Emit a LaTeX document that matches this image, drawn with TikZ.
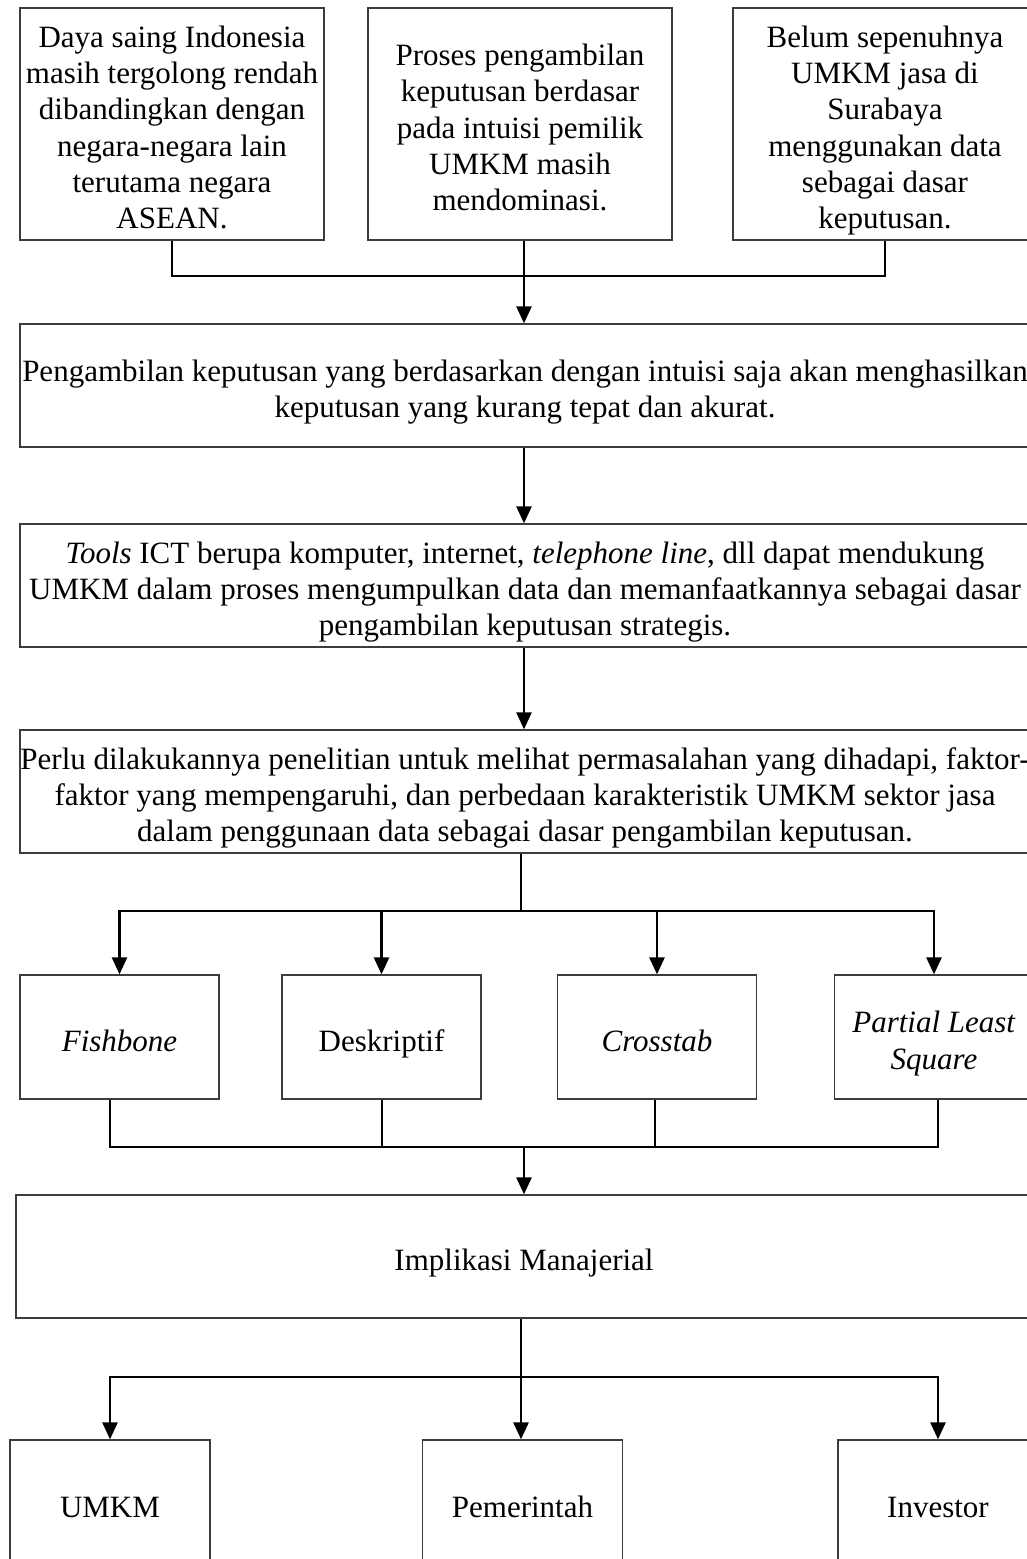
\documentclass[tikz,border=0pt]{standalone}
\usepackage{fontspec}
\setmainfont{Liberation Serif}
\usetikzlibrary{arrows.meta}
\definecolor{boxline}{HTML}{3C3C3C}
% struts that fix the first line's height and the last line's depth
\newcommand\topstrut{\rule{0pt}{36pt}}
\newcommand\botstrut{\rule[-8pt]{0pt}{8pt}}
\begin{document}
\begin{tikzpicture}[x=1pt,y=-1pt,
  box/.style={draw=boxline, line width=1.3pt, fill=white, inner sep=0pt,
    align=center, font=\fontsize{31}{36.3}\selectfont},
  conn/.style={line width=2.6pt, draw=black},
  arr/.style={conn, -{Triangle[length=17pt,width=15pt]}}
]
\useasboundingbox (0,0) rectangle (1027,1559);
\clip (0,0) rectangle (1027,1559);

% top row of problem statements
\node[box, minimum width=304pt, minimum height=232pt] (b1) at (172,124)
  {\topstrut Daya saing Indonesia\\masih tergolong rendah\\dibandingkan dengan\\negara-negara lain\\terutama negara\\ASEAN.\botstrut};
\node[box, minimum width=304pt, minimum height=232pt] (b2) at (520,124)
  {\topstrut Proses pengambilan\\keputusan berdasar\\pada intuisi pemilik\\UMKM masih\\mendominasi.\botstrut};
\node[box, minimum width=304pt, minimum height=232pt] (b3) at (885,124)
  {\topstrut Belum sepenuhnya\\UMKM jasa di\\Surabaya\\menggunakan data\\sebagai dasar\\keputusan.\botstrut};

% wide chain boxes
\node[box, minimum width=1010pt, minimum height=123pt] (b4) at (525,385.5)
  {\topstrut Pengambilan keputusan yang berdasarkan dengan intuisi saja akan menghasilkan\\keputusan yang kurang tepat dan akurat.\botstrut};
\node[box, minimum width=1010pt, minimum height=123pt] (b5) at (525,585.5)
  {\topstrut\textit{Tools} ICT berupa komputer, internet, \textit{telephone line}, dll dapat mendukung\\UMKM dalam proses mengumpulkan data dan memanfaatkannya sebagai dasar\\pengambilan keputusan strategis.\botstrut};
\node[box, minimum width=1010pt, minimum height=123pt] (b6) at (525,791.5)
  {\topstrut Perlu dilakukannya penelitian untuk melihat permasalahan yang dihadapi, faktor-\\faktor yang mempengaruhi, dan perbedaan karakteristik UMKM sektor jasa\\dalam penggunaan data sebagai dasar pengambilan keputusan.\botstrut};

% analysis methods
\node[box, minimum width=199pt, minimum height=124pt] (fish) at (119.5,1037) {\topstrut\textit{Fishbone}\botstrut};
\node[box, minimum width=199pt, minimum height=124pt] (desk) at (381.5,1037) {\topstrut Deskriptif\botstrut};
\node[box, minimum width=199pt, minimum height=124pt] (cross) at (657,1037) {\topstrut\textit{Crosstab}\botstrut};
\node[box, minimum width=199pt, minimum height=124pt] (pls) at (934,1037) {\topstrut\textit{Partial Least}\\\textit{Square}\botstrut};

% implications
\node[box, minimum width=1016pt, minimum height=123pt] (impl) at (524,1256.5) {\topstrut Implikasi Manajerial\botstrut};
\node[box, minimum width=200pt, minimum height=126pt] (umkm) at (110,1503) {\topstrut UMKM\botstrut};
\node[box, minimum width=200pt, minimum height=126pt] (pem) at (522.5,1503) {\topstrut Pemerintah\botstrut};
\node[box, minimum width=200pt, minimum height=126pt] (inv) at (938,1503) {\topstrut Investor\botstrut};

% connectors: top row into the chain
\coordinate (s1) at (524,276);
\draw[conn] (b1.south) |- (s1);
\draw[conn] (b3.south) |- (s1);
\draw[arr] (b2.south -| s1) -- (b4.north -| s1);
\draw[arr] (b4.south -| s1) -- (b5.north -| s1);
\draw[arr] (b5.south -| s1) -- (b6.north -| s1);

% fan out to the methods
\coordinate (s2) at (521,911);
\draw[conn] (b6.south -| s2) -- (s2);
\draw[arr] (s2) -| (fish.north);
\draw[arr] (s2) -| (pls.north);
\draw[arr] (desk.north |- s2) -- (desk.north);
\draw[arr] (cross.north |- s2) -- (cross.north);

% gather the methods
\coordinate (m1) at (110,1147);
\coordinate (m2) at (382,1147);
\coordinate (m3) at (655,1147);
\coordinate (m4) at (938,1147);
\coordinate (s3) at (524,1147);
\draw[conn] (fish.south -| m1) -- (m1) -- (m4) -- (pls.south -| m4);
\draw[conn] (desk.south -| m2) -- (m2);
\draw[conn] (cross.south -| m3) -- (m3);
\draw[arr] (s3) -- (impl.north -| s3);

% fan out to the stakeholders
\coordinate (s4) at (521,1377);
\draw[conn] (impl.south -| s4) -- (s4);
\draw[arr] (s4) -| (umkm.north);
\draw[arr] (s4) -| (inv.north);
\draw[arr] (s4) -- (pem.north -| s4);
\end{tikzpicture}
\end{document}
